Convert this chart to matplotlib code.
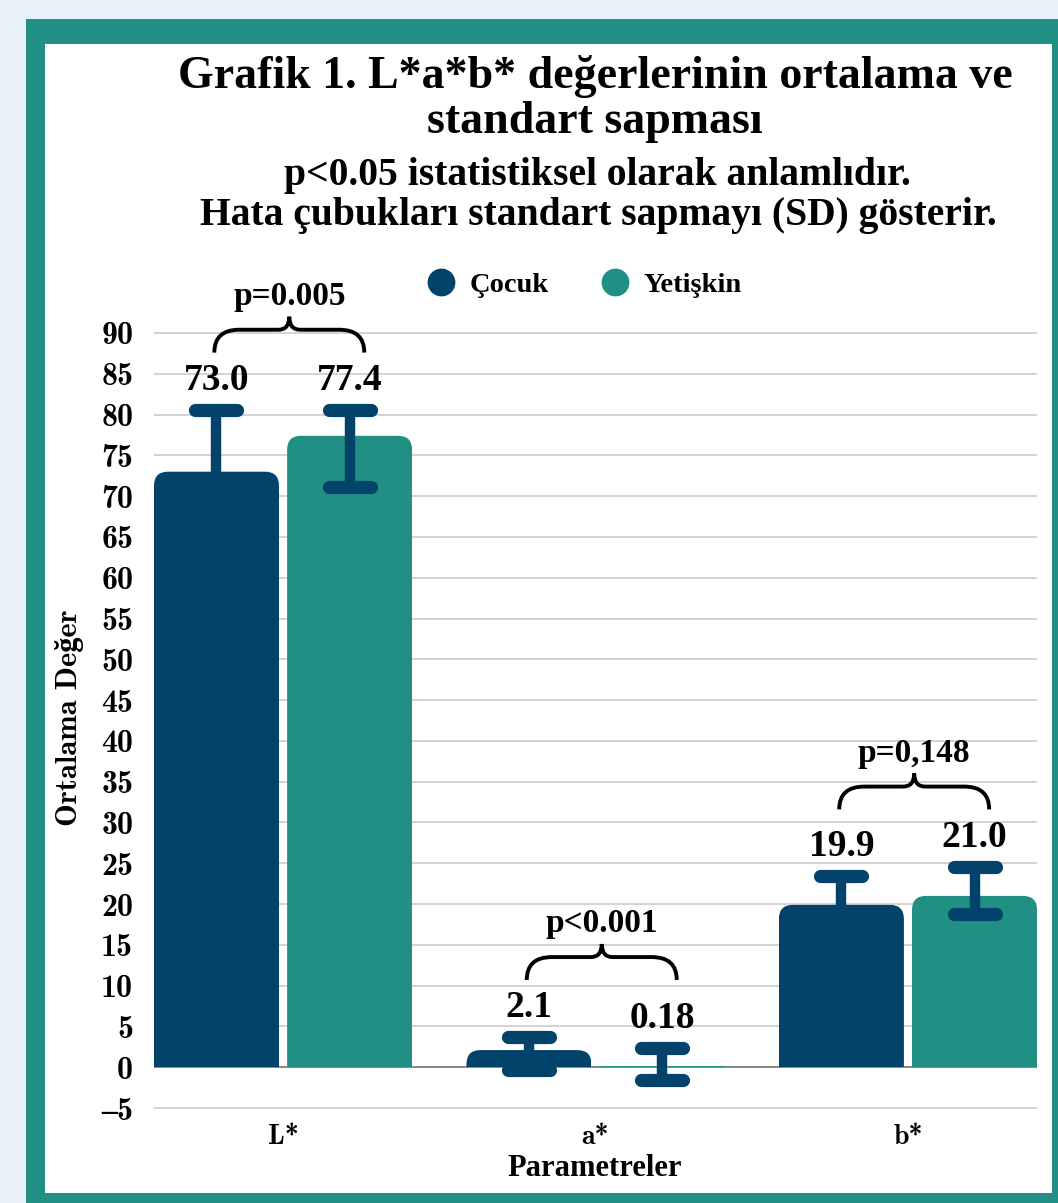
import matplotlib
matplotlib.use("Agg")
import matplotlib.pyplot as plt
from matplotlib.patches import Rectangle, FancyBboxPatch, PathPatch
from matplotlib.path import Path
from matplotlib.lines import Line2D

# veriler
parametreler = ["L*", "a*", "b*"]
cocuk = [73.0, 2.1, 19.9]
yetiskin = [77.4, 0.18, 21.0]
cocuk_etiket = ["73.0", "2.1", "19.9"]
yetiskin_etiket = ["77.4", "0.18", "21.0"]
cocuk_sd_alt = [7.6, 2.5, 3.6]
cocuk_sd_ust = [7.6, 1.6, 3.6]
yetiskin_sd_alt = [6.3, 1.8, 2.2]
yetiskin_sd_ust = [3.15, 2.15, 3.6]
p_degerleri = ["p=0.005", "p<0.001", "p=0,148"]
y_ticks = list(range(-5, 95, 5))
y_etiketler = [str(t).replace("-", "\u2013") for t in y_ticks]

LACIVERT = "#03426a"
TEAL = "#218f84"
ARKA = "#e8f0f9"

plt.rcParams["font.family"] = ["Liberation Serif", "DejaVu Serif"]
plt.rcParams["font.weight"] = "bold"
CM = ["cmb10", "Liberation Serif", "DejaVu Serif"]

W, H = 1058, 1203
fig = plt.figure(figsize=(W / 100, H / 100), dpi=100, facecolor=ARKA)

# çerçeve
fig.patches.append(Rectangle((26 / W, 0), 1, 1 - 19 / H, transform=fig.transFigure,
                             facecolor=TEAL, edgecolor="none", zorder=-10))
fig.patches.append(Rectangle((45 / W, 10 / H), (1052 - 45) / W, (1193 - 44) / H,
                             transform=fig.transFigure, facecolor="white",
                             edgecolor="none", zorder=-9))

ymin, ymax = -5.3, 90.3
xmin, xmax = -0.413, 2.413
px_y = (1108 - 333) / 95
ax_top = 333 - (ymax - 90) * px_y
ax_bot = 1108 + (-5 - ymin) * px_y
ax = fig.add_axes([154 / W, 1 - ax_bot / H, (1037 - 154) / W, (ax_bot - ax_top) / H])
ax.set_facecolor("none")
ax.set_xlim(xmin, xmax)
ax.set_ylim(ymin, ymax)

px_x = (1037 - 154) / (xmax - xmin)
aspect = px_x / px_y

x = list(range(len(parametreler)))
bw = 0.40
off = 0.213
x_c = [i - off for i in x]
x_y = [i + off for i in x]


def yuvarlak_bar(bars, renk):
    r = 14 / px_x
    ry = r * aspect
    for rect in bars:
        bx, bwid, bh = rect.get_x(), rect.get_width(), rect.get_height()
        if bh < ry:
            continue
        rect.remove()
        p = FancyBboxPatch((bx, -ry), bwid, bh + ry,
                           boxstyle=f"round,pad=0,rounding_size={r}",
                           mutation_aspect=aspect, facecolor=renk,
                           edgecolor="none", zorder=2)
        ax.add_patch(p)
        clip = Rectangle((bx, 0), bwid, bh + 5, transform=ax.transData)
        p.set_clip_path(clip)


b1 = ax.bar(x_c, cocuk, bw, color=LACIVERT, zorder=2, linewidth=0)
b2 = ax.bar(x_y, yetiskin, bw, color=TEAL, zorder=2, linewidth=0)
yuvarlak_bar(b1, LACIVERT)
yuvarlak_bar(b2, TEAL)


def hata(xs, ys, alt, ust):
    lo = [v - a for v, a in zip(ys, alt)]
    hi = [v + u for v, u in zip(ys, ust)]
    ax.vlines(xs, lo, hi, color=LACIVERT, lw=7.5, zorder=3)
    cw = 21 / px_x
    for xx, l, h in zip(xs, lo, hi):
        for yy in (l, h):
            ax.plot([xx - cw, xx + cw], [yy, yy], color=LACIVERT, lw=9.5,
                    solid_capstyle="round", zorder=3)
    return hi


ust_c = hata(x_c, cocuk, cocuk_sd_alt, cocuk_sd_ust)
ust_y = hata(x_y, yetiskin, yetiskin_sd_alt, yetiskin_sd_ust)

ETK = 3.6
for xx, top, lab in zip(x_c, ust_c, cocuk_etiket):
    ax.text(xx, top + ETK, lab, ha="center", va="center", fontsize=27, zorder=4)
for xx, top, lab in zip(x_y, ust_y, yetiskin_etiket):
    ax.text(xx, top + ETK, lab, ha="center", va="center", fontsize=27, zorder=4)


def kume_parantez(xl, xr, y0):
    xm = (xl + xr) / 2
    h1, h2 = 2.8, 4.4
    d1, d2 = 0.08, 0.035
    verts = [(xl, y0), (xl, y0 + h1), (xl + d1, y0 + h1),
             (xm - d2, y0 + h1), (xm, y0 + h1), (xm, y0 + h2),
             (xm, y0 + h1), (xm + d2, y0 + h1),
             (xr - d1, y0 + h1), (xr, y0 + h1), (xr, y0)]
    codes = [Path.MOVETO, Path.CURVE3, Path.CURVE3, Path.LINETO,
             Path.CURVE3, Path.CURVE3, Path.CURVE3, Path.CURVE3,
             Path.LINETO, Path.CURVE3, Path.CURVE3]
    ax.add_patch(PathPatch(Path(verts, codes), facecolor="none",
                           edgecolor="black", lw=2.8, clip_on=False, zorder=4))


for i, p in enumerate(p_degerleri):
    lab_top = max(ust_c[i], ust_y[i]) + ETK
    y0 = lab_top + 3.4
    cx = i + 0.02
    kume_parantez(cx - 0.24, cx + 0.24, y0)
    ax.text(cx, y0 + 6.9, p, ha="center", va="center", fontsize=24, clip_on=False)

# ızgara
ax.set_yticks(y_ticks)
ax.yaxis.grid(True, color="#d2d2d2", lw=1.4, zorder=0)
ax.axhline(0, color="#8a8a8a", lw=1.4, zorder=1)
ax.set_axisbelow(True)
for s in ax.spines.values():
    s.set_visible(False)
ax.tick_params(length=0)
ax.tick_params(axis="y", pad=15)
ax.tick_params(axis="x", pad=10)
ax.set_yticklabels(y_etiketler, family=CM, fontsize=23, fontweight="bold")
ax.set_xticks(x)
ax.set_xticklabels(parametreler, family=CM, fontsize=20, fontweight="bold")

fig.text(70 / W, 1 - 718 / H, "Ortalama Değer", rotation=90, ha="center", va="center",
         family=CM, fontsize=22)
fig.text(595 / W, 1 - 1168 / H, "Parametreler", ha="center", va="center", fontsize=22)

# başlıklar
fig.text(595 / W, 1 - 76 / H, "Grafik 1. L*a*b* değerlerinin ortalama ve",
         ha="center", va="center", fontsize=33)
fig.text(595 / W, 1 - 122 / H, "standart sapması", ha="center", va="center", fontsize=33)
fig.text(597 / W, 1 - 176 / H, "p<0.05 istatistiksel olarak anlamlıdır.",
         ha="center", va="center", fontsize=28.5)
fig.text(598 / W, 1 - 216 / H, "Hata çubukları standart sapmayı (SD) gösterir.",
         ha="center", va="center", fontsize=28.5)

handles = [Line2D([], [], marker="o", ls="", color=LACIVERT, markersize=19),
           Line2D([], [], marker="o", ls="", color=TEAL, markersize=19)]
ax.legend(handles, ["Çocuk", "Yetişkin"], loc="center",
          bbox_to_anchor=(577 / W, 1 - 285 / H), bbox_transform=fig.transFigure,
          ncol=2, frameon=False, prop=dict(size=20.5, weight="bold"),
          handletextpad=0.0, columnspacing=1.3)

fig.savefig("out.png", dpi=100, facecolor=ARKA)
